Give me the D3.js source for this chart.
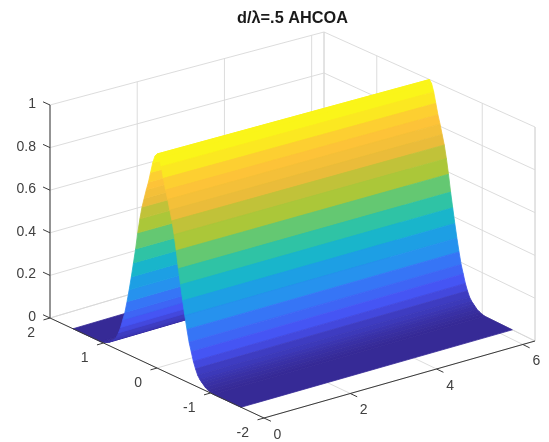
<!DOCTYPE html>
<html><head><meta charset="utf-8">
<script src="https://cdn.jsdelivr.net/npm/d3@7/dist/d3.min.js"></script>
<style>html,body{margin:0;padding:0;background:#fff}svg{display:block;filter:blur(0.45px)}
text{font-family:"Liberation Sans",Arial,sans-serif}
g.surface{filter:blur(0.4px)}</style></head>
<body><svg id="c" width="549" height="442"></svg>
<script>
const titleText = "d/λ=.5 AHCOA";
const xTicks = [0,2,4,6];
const yTicks = [-2,-1,0,1,2];
const zTicks = [0,0.2,0.4,0.6,0.8,1];
const zTickLabels = ["0","0.2","0.4","0.6","0.8","1"];
const xEdges = [0,6.283];
const yRows = [1.57,1.05,1.0,0.95,0.90,0.86,0.83,0.80,0.76,0.72,0.68,0.64,0.60,0.56,0.52,0.48,0.44,0.40,0.36,0.32,0.28,0.24,0.20,0.16,0.12,0.08,0.04,0,
 -0.04,-0.08,-0.12,-0.16,-0.20,-0.24,-0.28,-0.32,-0.36,-0.40,-0.44,-0.48,-0.52,-0.56,-0.60,-0.64,-0.68,-0.72,-0.76,-0.80,-0.83,-0.86,-0.90,-0.95,-1.0,-1.05,-1.57];
const zRows = [0,0,0.003,0.008,0.015,0.025,0.032,0.04,0.055,0.08,0.11,0.15,0.19,0.245,0.305,0.37,0.44,0.51,0.59,0.66,0.72,0.765,0.81,0.85,0.90,0.95,0.985,1,
 0.985,0.95,0.90,0.85,0.81,0.765,0.72,0.66,0.59,0.51,0.44,0.37,0.305,0.245,0.19,0.15,0.11,0.08,0.055,0.04,0.032,0.025,0.015,0.008,0.003,0,0];
const parulaStops = [0,0.127,0.254,0.381,0.508,0.635,0.735,0.83,1];
const parulaColors = ["#362a96","#4752f4","#2d87f7","#12b1d6","#37c897","#abc739","#e6bb3a","#fec338","#f9fb15"];

const svg=d3.select("#c");
const uS=d3.scaleLinear().domain([0,6.283]).range([0,1]);
const vS=d3.scaleLinear().domain([-2,2]).range([0,1]);
const zS=d3.scaleLinear().domain([0,1]).range([0,1]);
const F=[264,418],R=[535,341],L=[50,318],B=[324,237];
const hF=215,hR=214,hL=213,hB=205;
function project(x,y,z){
  const u=uS(x),v=vS(y),h=zS(z);
  const bl=(a,b,c,d)=>a*(1-u)*(1-v)+b*u*(1-v)+c*(1-u)*v+d*u*v;
  return [bl(F[0],R[0],L[0],B[0]), bl(F[1],R[1],L[1],B[1])-h*bl(hF,hR,hL,hB)];
}
const line=d3.line();
const colorRamp=d3.scaleLinear().domain(parulaStops).range(parulaColors).interpolate(d3.interpolateRgb);
const bands=26;
const colorBand=z=>z<0.06?colorRamp(z):colorRamp((Math.floor(z*bands)+0.5)/bands);

// grid
const xEnd=xEdges[1];
const grid=[];
zTicks.forEach(z=>{grid.push([[0,2,z],[xEnd,2,z]]);grid.push([[xEnd,2,z],[xEnd,-2,z]]);});
xTicks.forEach(x=>{grid.push([[x,2,0],[x,2,1]]);grid.push([[x,-2,0],[x,2,0]]);});
yTicks.forEach(y=>{grid.push([[xEnd,y,0],[xEnd,y,1]]);grid.push([[0,y,0],[xEnd,y,0]]);});
grid.push([[xEnd,2,0],[xEnd,2,1]]);grid.push([[xEnd,-2,0],[xEnd,-2,1]]);grid.push([[xEnd,-2,0],[xEnd,2,0]]);
svg.append("g").selectAll("path").data(grid).join("path")
  .attr("d",d=>line(d.map(p=>project(...p))))
  .attr("fill","none").attr("stroke","#d8d8d8").attr("stroke-width",0.9);

// surface: back row to front row
const quads=d3.range(yRows.length-1).map(i=>({y0:yRows[i],z0:zRows[i],y1:yRows[i+1],z1:zRows[i+1]}));
svg.append("g").attr("class","surface").selectAll("path").data(quads).join("path")
  .attr("d",q=>line([project(xEdges[0],q.y0,q.z0),project(xEdges[1],q.y0,q.z0),project(xEdges[1],q.y1,q.z1),project(xEdges[0],q.y1,q.z1)])+"Z")
  .attr("fill",q=>colorBand((q.z0+q.z1)/2))
  .attr("stroke",q=>colorBand((q.z0+q.z1)/2)).attr("stroke-width",0.8).attr("stroke-linejoin","round");

// axes
const axisColor="#3a3a3a";
const ax=svg.append("g");
[[[0,2,0],[0,2,1]],[[0,2,0],[0,-2,0]],[[0,-2,0],[xEnd,-2,0]]].forEach(s=>
  ax.append("path").attr("d",line(s.map(p=>project(...p)))).attr("fill","none").attr("stroke",axisColor).attr("stroke-width",1));
const ticks=[];
zTicks.forEach(z=>ticks.push([[0,2,z],[0,2.13,z]]));
yTicks.forEach(y=>ticks.push([[0,y,0],[-0.15,y,0]]));
xTicks.forEach(x=>ticks.push([[x,-2,0],[x,-2.13,0]]));
ax.selectAll("path.t").data(ticks).join("path").attr("class","t")
  .attr("d",d=>line(d.map(p=>project(...p)))).attr("fill","none").attr("stroke",axisColor).attr("stroke-width",1);

function label(s,x,y,anchor){
  svg.append("text").attr("x",x).attr("y",y).attr("text-anchor",anchor).attr("font-size",14).attr("fill","#404040").text(s);
}
zTicks.forEach((z,i)=>{const p=project(0,2,z);label(zTickLabels[i],p[0]-14,p[1]+3,"end");});
yTicks.forEach(y=>{const p=project(0,y,0);label(String(y),p[0]-15,p[1]+19,"end");});
xTicks.forEach(x=>{const p=project(x,-2,0);label(String(x),p[0]+13.5,p[1]+21,"middle");});
svg.append("text").attr("x",292.5).attr("y",23).attr("text-anchor","middle").attr("font-size",16.3)
  .attr("font-weight","bold").attr("fill","#1a1a1a").text(titleText);
</script></body></html>
